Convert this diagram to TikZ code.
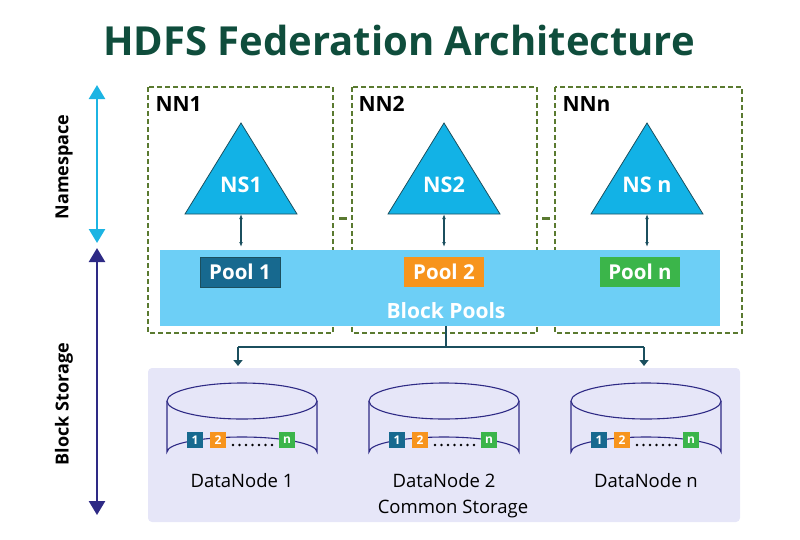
\documentclass[tikz,border=0pt]{standalone}
\usepackage{fontspec}
\setmainfont{Open Sans}
\usetikzlibrary{arrows.meta}
\definecolor{ttl}{HTML}{0F4D3C}
\definecolor{cyanA}{HTML}{1CB4E3}
\definecolor{navy}{HTML}{2E2A85}
\definecolor{olive}{HTML}{5A7A30}
\definecolor{tri}{HTML}{12B2E6}
\definecolor{teal}{HTML}{1B4F5E}
\definecolor{bpool}{HTML}{6DCFF6}
\definecolor{p1}{HTML}{17698F}
\definecolor{p2}{HTML}{F7941D}
\definecolor{pn}{HTML}{3BB54A}
\definecolor{lav}{HTML}{E6E6F8}
\tikzset{
 nnbox/.style={draw=olive,line width=1.2pt,dash pattern=on 5pt off 3pt},
 ns/.style={draw=teal,fill=tri,line width=0.8pt},
 pool/.style={minimum width=80pt,minimum height=30pt,inner sep=0pt,text=white,font=\bfseries\fontsize{20.5}{20}\selectfont},
 dbl/.style={teal,line width=1.2pt,{Latex[length=5pt]}-{Latex[length=5pt]}},
 conn/.style={teal,line width=2.5pt},
 cyl/.style={draw=navy,line width=1.1pt,fill=lav},
 sq/.style={minimum size=16pt,inner sep=0pt,text=white,font=\bfseries\fontsize{12}{12}\selectfont},
 lbl/.style={font=\fontsize{18.5}{18}\selectfont,text=black},
 side/.style={rotate=90,font=\bfseries\fontsize{18}{18}\selectfont}
}
\begin{document}
\begin{tikzpicture}[x=1pt,y=-1pt]
\useasboundingbox (0,0) rectangle (800,539);
\node[text=ttl,font=\bfseries\fontsize{40}{40}\selectfont] (title) at (399,40) {HDFS Federation Architecture};
% side arrows
\coordinate (ns1) at (97,85); \coordinate (ns2) at (97,243);
\coordinate (bs1) at (97,248); \coordinate (bs2) at (97,515);
\draw[cyanA,line width=2.5pt,{Triangle[length=14pt,width=16pt]}-{Triangle[length=14pt,width=16pt]}] (ns1) -- (ns2);
\draw[navy,line width=2.5pt,{Triangle[length=14pt,width=16pt]}-{Triangle[length=14pt,width=16pt]}] (bs1) -- (bs2);
\node[side] (nsl) at (64,167) {Namespace};
\node[side] (bsl) at (64,404) {Block Storage};
% NN boxes
\draw[nnbox] (148,87) rectangle (333,333);
\draw[nnbox] (352,87) rectangle (537,333);
\draw[nnbox] (555,87) rectangle (742,333);
\draw[olive,line width=3pt] (339,218) -- (347,218);
\draw[olive,line width=3pt] (542,218) -- (550,218);
\node[anchor=west,font=\bfseries\fontsize{21}{21}\selectfont] (nn1) at (152,104) {NN1};
\node[anchor=west,font=\bfseries\fontsize{21}{21}\selectfont] (nn2) at (355,104) {NN2};
\node[anchor=west,font=\bfseries\fontsize{21}{21}\selectfont] (nnn) at (559,104) {NNn};
% block pools
\fill[bpool] (160,250) rectangle (720,326);
\node[text=white,font=\bfseries\fontsize{21}{21}\selectfont] (bp) at (446,311) {Block Pools};
\foreach \c/\t/\col/\nm in {241/NS1/p1/1,444/NS2/p2/2,647/NS n/pn/3}{
 \draw[ns] (\c,123) -- (\c+56,214) -- (\c-56,214) -- cycle;
 \node[text=white,font=\bfseries\fontsize{21.5}{21}\selectfont] (t\nm) at (\c,185) {\t};
 \coordinate (a\nm) at (\c,214); \coordinate (b\nm) at (\c,247);
 \draw[dbl] (a\nm) -- (b\nm);
}
\node[pool,fill=p1,draw=teal] (pool1) at (240,272) {Pool 1};
\node[pool,fill=p2] (pool2) at (444,272) {Pool 2};
\node[pool,fill=pn] (pooln) at (640,272) {Pool n};
% common storage
\fill[lav,rounded corners=4pt] (148,368) rectangle (740,522);
\node[lbl] (cs) at (453,509) {Common Storage};
% connectors
\coordinate (c0) at (446,326); \coordinate (c1) at (446,347);
\coordinate (l1) at (238,347); \coordinate (r1) at (644,347);
\coordinate (l2) at (238,366); \coordinate (r2) at (644,366);
\draw[conn] (c0) -- (c1);
\draw[conn] (l1) -- (r1);
\draw[conn,-{Triangle[length=6pt,width=9pt]}] (l1) -- (l2);
\draw[conn,-{Triangle[length=6pt,width=9pt]}] (r1) -- (r2);
% cylinders
\foreach \c/\n/\k in {242/1/1,444/2/2,646/n/3}{
 \draw[cyl] (\c-75,401) -- (\c-75,452) arc[start angle=180,end angle=360,x radius=75,y radius=15] -- (\c+75,401);
 \draw[cyl] (\c,401) ellipse[x radius=75,y radius=18];
 \node[sq,fill=p1] (s1\k) at (\c-47,440) {1};
 \node[sq,fill=p2] (s2\k) at (\c-24,440) {2};
 \node[sq,fill=pn] (sn\k) at (\c+45,440) {n};
 \foreach \i in {0,...,6} \fill (\c-9+\i*6.5,445) circle[radius=1.3];
 \node[lbl] (dn\k) at (\c,481) {DataNode \n};
}
\end{tikzpicture}
\end{document}
